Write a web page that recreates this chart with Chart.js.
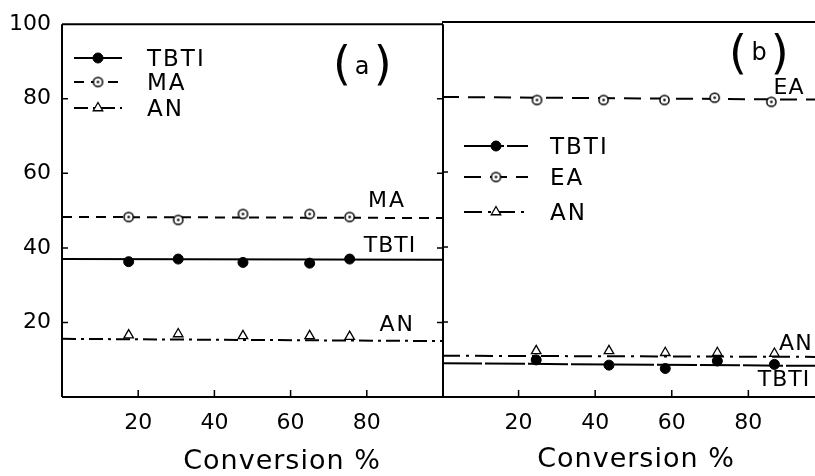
<!DOCTYPE html>
<html>
<head>
<meta charset="utf-8">
<script src="https://cdn.jsdelivr.net/npm/chart.js@4/dist/chart.umd.min.js"></script>
<style>
  html, body { margin: 0; padding: 0; background: #fff; }
  #wrap { position: relative; width: 815px; height: 476px; overflow: hidden; }
  canvas { position: absolute; top: 0; }
  #chart-a { left: 0; }
  #chart-b { left: 442px; }
</style>
</head>
<body>
<div id="wrap">
  <canvas id="chart-a" width="445" height="476"></canvas>
  <canvas id="chart-b" width="373" height="476"></canvas>
</div>
<script>
'use strict';

/* global Chart */

// panel (a): TBTI / MA / AN
const convA = [17.5, 30.5, 47.5, 65, 75.5];
const tbtiA = [36.3, 37.0, 36.1, 35.9, 37.0];
const maA = [48.3, 47.5, 49.1, 49.1, 48.3];
const anA = [16.6, 16.9, 16.4, 16.4, 16.2];
const fitXA = [0, 100];
const tbtiFitA = [37.0, 36.8];
const maFitA = [48.3, 48.0];
const anFitA = [15.6, 15.0];

// panel (b): TBTI / EA / AN
const convEA = [24.8, 42.2, 58.1, 71.2, 86.0];
const convB = [24.6, 43.6, 58.3, 71.9, 86.8];
const eaB = [79.2, 79.2, 79.2, 79.8, 78.7];
const anB = [12.3, 12.3, 11.8, 11.8, 11.6];
const tbtiB = [9.9, 8.5, 7.6, 9.6, 8.7];
const fitXB = [0, 97.4];
const eaFitB = [80.0, 79.3];
const anFitB = [11.0, 10.7];
const tbtiFitB = [9.0, 8.3];

const tickValues = [20, 40, 60, 80];

const FONT = 'DejaVu Sans';
const BLACK = '#000';

const pts = (xs, ys) => xs.map((x, i) => ({ x: x, y: ys[i] }));

// open circle with a dot in the middle
function dotCircle() {
  const c = document.createElement('canvas');
  c.width = c.height = 13;
  const g = c.getContext('2d');
  g.beginPath();
  g.arc(6.5, 6.5, 4.6, 0, 2 * Math.PI);
  g.fillStyle = '#fff';
  g.fill();
  g.lineWidth = 1.5;
  g.strokeStyle = BLACK;
  g.stroke();
  g.beginPath();
  g.arc(6.5, 6.5, 1.3, 0, 2 * Math.PI);
  g.fillStyle = BLACK;
  g.fill();
  return c;
}
const DOT_CIRCLE = dotCircle();

const MARK = {
  filled: { pointStyle: 'circle', pointRadius: 5, pointBackgroundColor: BLACK, pointBorderColor: BLACK, pointBorderWidth: 1 },
  dotted: { pointStyle: DOT_CIRCLE, pointRadius: 6, pointBackgroundColor: '#fff', pointBorderColor: BLACK, pointBorderWidth: 1.5 },
  triangle: { pointStyle: 'triangle', pointRadius: 5.5, pointBackgroundColor: '#fff', pointBorderColor: BLACK, pointBorderWidth: 1.3 }
};

function fitLine(xs, ys, dash) {
  return {
    data: pts(xs, ys), showLine: true, pointRadius: 0,
    borderColor: BLACK, borderWidth: 2, borderDash: dash, order: 2
  };
}
function points(xs, ys, mark) {
  return Object.assign({ data: pts(xs, ys), showLine: false, order: 1 }, MARK[mark]);
}

// frame, inward ticks, in-plot texts and hand-made legend
const decor = {
  id: 'decor',
  afterDraw(chart, args, opts) {
    const { ctx, chartArea: a } = chart;
    const x = chart.scales.x, y = chart.scales.y;
    ctx.save();
    ctx.strokeStyle = BLACK;
    ctx.lineWidth = 2;
    ctx.setLineDash([]);
    ctx.beginPath();
    ctx.moveTo(a.left, a.top); ctx.lineTo(a.right, a.top);
    ctx.moveTo(a.left, a.bottom); ctx.lineTo(a.right, a.bottom);
    ctx.moveTo(a.left, a.top); ctx.lineTo(a.left, a.bottom);
    if (opts.rightEdge) { ctx.moveTo(a.right, a.top); ctx.lineTo(a.right, a.bottom); }
    ctx.stroke();

    ctx.lineWidth = 1.5;
    ctx.beginPath();
    tickValues.forEach(v => {
      const px = x.getPixelForValue(v);
      ctx.moveTo(px, a.bottom); ctx.lineTo(px, a.bottom - 7);
      const py = y.getPixelForValue(v);
      ctx.moveTo(a.left, py); ctx.lineTo(a.left + 6, py);
      if (opts.rightEdge) { ctx.moveTo(a.right, py); ctx.lineTo(a.right - 6, py); }
    });
    ctx.stroke();

    ctx.fillStyle = BLACK;
    ctx.textBaseline = 'middle';
    ctx.textAlign = 'center';
    (opts.labels || []).forEach(l => {
      ctx.font = `${l.size || 22}px ${FONT}`;
      ctx.letterSpacing = l.spacing || '0px';
      ctx.fillText(l.text, x.getPixelForValue(l.x), y.getPixelForValue(l.y));
    });

    // axis title
    ctx.font = `27px ${FONT}`;
    ctx.letterSpacing = '1px';
    ctx.fillText(opts.title.text, opts.title.x, opts.title.y);
    ctx.letterSpacing = '0px';

    // legend
    const lg = opts.legend;
    lg.items.forEach((it, i) => {
      const ly = lg.y + i * lg.dy[i];
      const line = chart.data.datasets[it.line];
      const mark = chart.data.datasets[it.point];
      ctx.lineWidth = 2;
      ctx.setLineDash(line.borderDash || []);
      ctx.beginPath();
      ctx.moveTo(lg.x0, ly); ctx.lineTo(lg.x1, ly);
      ctx.stroke();
      ctx.setLineDash([]);
      ctx.fillStyle = mark.pointBackgroundColor;
      ctx.strokeStyle = BLACK;
      ctx.lineWidth = mark.pointBorderWidth;
      Chart.helpers.drawPoint(ctx, {
        pointStyle: mark.pointStyle, radius: mark.pointRadius,
        borderWidth: mark.pointBorderWidth, rotation: 0
      }, (lg.x0 + lg.x1) / 2, ly);
      ctx.fillStyle = BLACK;
      ctx.textAlign = 'left';
      ctx.font = `23px ${FONT}`;
      ctx.letterSpacing = '2px';
      ctx.fillText(it.label, lg.textX, ly + 2);
      ctx.letterSpacing = '0px';
    });
    ctx.restore();
  }
};

function xScale(max) {
  return {
    type: 'linear', min: 0, max: max,
    afterFit: s => { s.height = 79; s.paddingLeft = 0; s.paddingRight = 0; },
    grid: { display: false, drawTicks: false }, border: { display: false },
    ticks: {
      stepSize: 20, padding: 13, color: BLACK, maxRotation: 0,
      autoSkip: false, includeBounds: false,
      font: { family: FONT, size: 22 },
      callback: v => tickValues.includes(v) ? v : ''
    }
  };
}

new Chart(document.getElementById('chart-a'), {
  type: 'scatter',
  data: {
    datasets: [
      fitLine(fitXA, tbtiFitA, []),
      fitLine(fitXA, maFitA, [10, 7]),
      fitLine(fitXA, anFitA, [14, 5, 3, 5]),
      points(convA, tbtiA, 'filled'),
      points(convA, maA, 'dotted'),
      points(convA, anA, 'triangle')
    ]
  },
  options: {
    responsive: false,
    animation: false,
    layout: { autoPadding: false, padding: { top: 22, right: 2, left: 0, bottom: 0 } },
    plugins: {
      legend: { display: false },
      tooltip: { enabled: false },
      decor: {
        rightEdge: true,
        title: { text: 'Conversion %', x: 282, y: 462 },
        labels: [
          { text: 'MA', x: 85.3, y: 52.5, spacing: '2px' },
          { text: 'TBTI', x: 86.1, y: 40.3, spacing: '1px' },
          { text: 'AN', x: 88.0, y: 19.3, spacing: '2px' },
          { text: '(', x: 73.5, y: 88.6, size: 46 },
          { text: 'a', x: 78.8, y: 88.4, size: 24 },
          { text: ')', x: 84.2, y: 88.6, size: 46 }
        ],
        legend: {
          x0: 74, x1: 122, textX: 147, y: 58, dy: [0, 24, 25],
          items: [
            { line: 0, point: 3, label: 'TBTI' },
            { line: 1, point: 4, label: 'MA' },
            { line: 2, point: 5, label: 'AN' }
          ]
        }
      }
    },
    scales: {
      x: xScale(100),
      y: {
        min: 0, max: 100,
        afterFit: s => { s.width = 62; },
        grid: { display: false, drawTicks: false }, border: { display: false },
        ticks: {
          stepSize: 20, padding: 11, color: BLACK,
          font: { family: FONT, size: 22 },
          callback: v => v > 0 ? v : ''
        }
      }
    }
  },
  plugins: [decor]
});

new Chart(document.getElementById('chart-b'), {
  type: 'scatter',
  data: {
    datasets: [
      fitLine(fitXB, tbtiFitB, [40, 3]),
      fitLine(fitXB, eaFitB, [17, 9]),
      fitLine(fitXB, anFitB, [18, 6, 3, 6]),
      points(convB, tbtiB, 'filled'),
      points(convEA, eaB, 'dotted'),
      points(convB, anB, 'triangle')
    ]
  },
  options: {
    responsive: false,
    animation: false,
    layout: { autoPadding: false, padding: { top: 22, right: 0, left: 0, bottom: 0 } },
    plugins: {
      legend: { display: false },
      tooltip: { enabled: false },
      decor: {
        rightEdge: false,
        title: { text: 'Conversion %', x: 194, y: 460 },
        labels: [
          { text: 'EA', x: 90.6, y: 82.3, spacing: '1px' },
          { text: 'AN', x: 92.4, y: 14.1, spacing: '1px' },
          { text: 'TBTI', x: 89.3, y: 4.5, spacing: '1px' },
          { text: '(', x: 77.3, y: 91.0, size: 46 },
          { text: 'b', x: 82.8, y: 91.4, size: 24 },
          { text: ')', x: 88.2, y: 91.0, size: 46 }
        ],
        legend: {
          x0: 22, x1: 86, textX: 108, y: 146, dy: [0, 31, 33],
          items: [
            { line: 0, point: 3, label: 'TBTI' },
            { line: 1, point: 4, label: 'EA' },
            { line: 2, point: 5, label: 'AN' }
          ]
        }
      }
    },
    scales: {
      x: xScale(97.4),
      y: { display: false, min: 0, max: 100 }
    }
  },
  plugins: [decor]
});
</script>
</body>
</html>
